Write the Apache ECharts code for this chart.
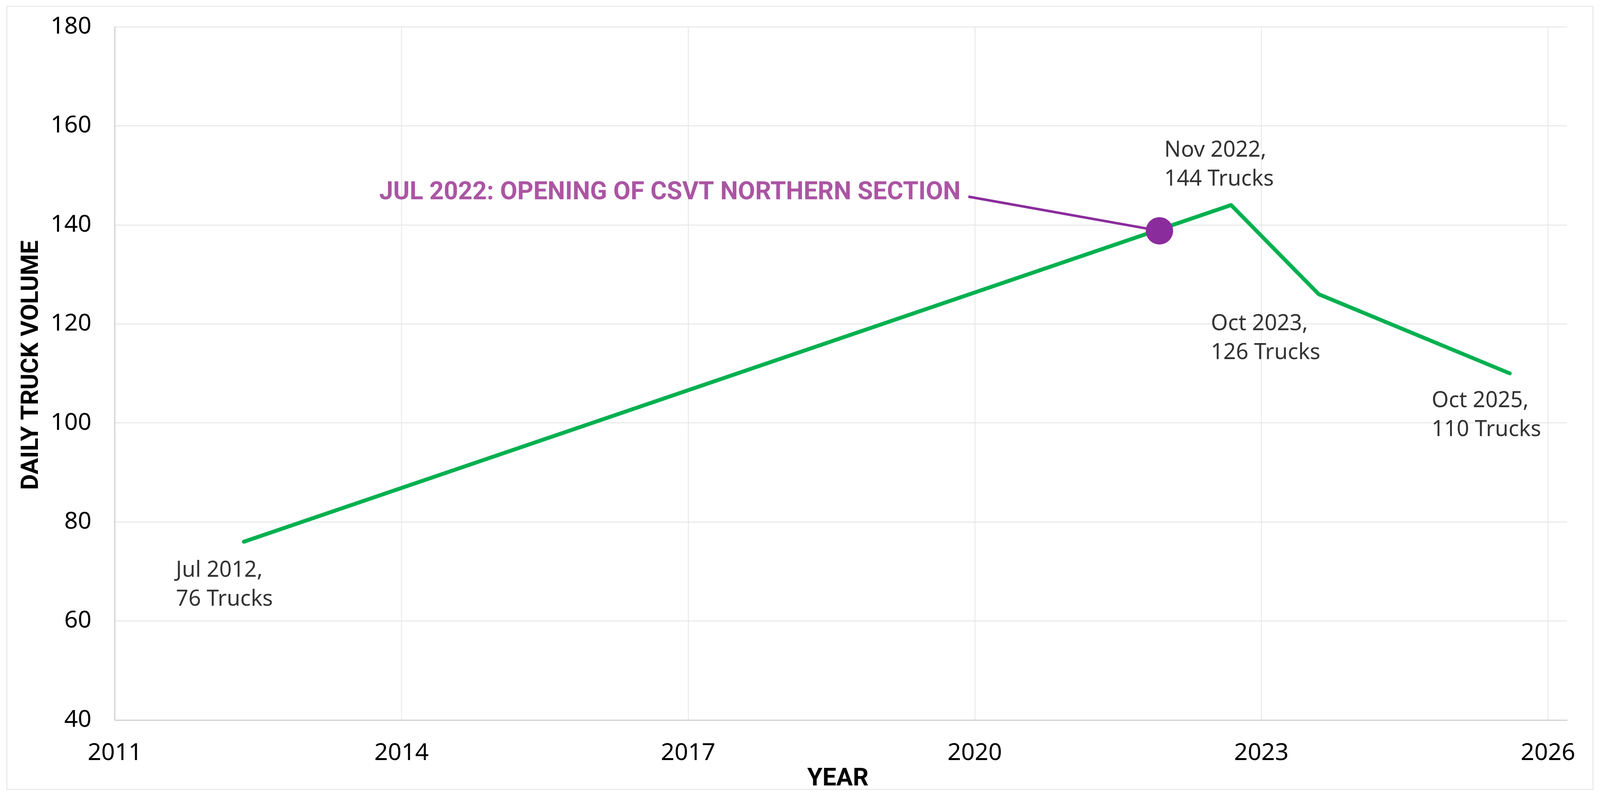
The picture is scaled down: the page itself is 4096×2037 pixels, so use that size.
<!DOCTYPE html>
<html>
<head>
<meta charset="utf-8">
<script src="https://cdn.jsdelivr.net/npm/echarts@6.0.0/dist/echarts.min.js"></script>
<style>
  html, body { margin: 0; padding: 0; background: #ffffff; }
  #chart { width: 4096px; height: 2037px; }
</style>
</head>
<body>
<div id="chart"></div>
<script>
// ---------------- data ----------------
const dates      = ['2012-07', '2022-11', '2023-10', '2025-10'];
const dateLabels = ['Jul 2012', 'Nov 2022', 'Oct 2023', 'Oct 2025'];
const trucks     = [76, 144, 126, 110];

const xTickLabels = ['2011', '2014', '2017', '2020', '2023', '2026'];
const yTicks      = [40, 60, 80, 100, 120, 140, 160, 180];

const eventText  = 'JUL 2022: OPENING OF CSVT NORTHERN SECTION';
const eventPoint = ['2022-02', 138.8];   // purple marker on the line
const calloutAt  = ['2020-02', 145.7];   // where the leader line starts (end of the caption)

// x axis: years counted from the axis origin (the "2011" tick), 3-year steps
const X_ORIGIN = 2011.15;
const X_SPAN   = 15.2;
const X_STEP   = 3;

// ---------------- helpers ----------------
function toX(d) {
  const [y, m] = d.split('-').map(Number);
  return y + (m - 1) / 12 - X_ORIGIN;
}

const GREEN  = '#00B050';
const PURPLE = '#8B2C9D';
const PURPLE_TEXT = '#962A8C';
const FONT = "'Noto Sans', 'Open Sans', sans-serif";
const BOLD_FONT = "Roboto, 'Liberation Sans', sans-serif";

// label box offsets (pixels) relative to each point
const labelOffsets = [[-174, 37], [-171, -177], [-276, 39], [-200, 34]];

const lineData = dates.map((d, i) => [toX(d), trucks[i]]);
const labelData = dates.map((d, i) => ({
  value: [toX(d), trucks[i]],
  label: {
    show: true,
    position: [labelOffsets[i][0] + 0.5, labelOffsets[i][1] + 0.5],
    formatter: dateLabels[i] + ',\n' + trucks[i] + ' Trucks'
  }
}));

const chart = echarts.init(document.getElementById('chart'), null, { renderer: 'canvas' });

const option = {
  backgroundColor: '#ffffff',
  animation: false,
  graphic: [{
    type: 'rect',
    silent: true,
    shape: { x: 17.5, y: 16.5, width: 4078 - 17.5, height: 2020 - 16.5 },
    style: { fill: 'none', stroke: '#d9d9d9', lineWidth: 1.5 },
    z: -10
  }],
  grid: { left: 294.2, top: 68.7, right: 84.3, bottom: 194.7, containLabel: false },
  xAxis: {
    type: 'value',
    min: 0,
    max: X_SPAN,
    interval: X_STEP,
    name: 'YEAR',
    nameLocation: 'middle',
    nameGap: 109,
    nameTextStyle: { fontFamily: BOLD_FONT, fontWeight: 'bold', fontSize: 63, color: '#000', padding: [0, 16, 0, 0] },
    axisLine: { show: true, lineStyle: { color: '#bfbfbf', width: 2 } },
    axisTick: { show: false },
    axisLabel: {
      fontFamily: FONT, fontSize: 61, color: '#000', margin: 55,
      showMinLabel: true, showMaxLabel: false,
      formatter: v => {
        const k = Math.round(v / X_STEP);
        return Math.abs(v - k * X_STEP) < 1e-6 ? (xTickLabels[k] || '') : '';
      }
    },
    splitLine: { show: true, showMaxLine: false, lineStyle: { color: '#dedede', width: 1.5 } }
  },
  yAxis: {
    type: 'value',
    min: yTicks[0],
    max: yTicks[yTicks.length - 1],
    interval: yTicks[1] - yTicks[0],
    name: 'DAILY TRUCK VOLUME',
    nameLocation: 'middle',
    nameGap: 182,
    nameTextStyle: { fontFamily: BOLD_FONT, fontWeight: 'bold', fontSize: 62, color: '#000', padding: [0, 0, 0, 42] },
    axisLine: { show: true, lineStyle: { color: '#bfbfbf', width: 2 } },
    axisTick: { show: false },
    axisLabel: { fontFamily: FONT, fontSize: 61, color: '#000', margin: 60 },
    splitLine: { show: true, lineStyle: { color: '#d9d9d9', width: 1.5 } }
  },
  series: [
    {
      name: 'Daily truck volume',
      type: 'line',
      data: lineData,
      symbol: 'none',
      lineStyle: { color: GREEN, width: 10, cap: 'round', join: 'round' },
      z: 2
    },
    {
      name: 'leader',
      type: 'line',
      data: [[toX(calloutAt[0]), calloutAt[1]], [toX(eventPoint[0]), eventPoint[1]]],
      symbol: 'none',
      lineStyle: { color: PURPLE, width: 6.5 },
      z: 3
    },
    {
      name: 'event',
      type: 'scatter',
      data: [[toX(eventPoint[0]), eventPoint[1]]],
      symbol: 'circle',
      symbolSize: 70,
      itemStyle: { color: PURPLE, opacity: 1 },
      z: 4
    },
    {
      name: 'event caption',
      type: 'scatter',
      data: [{
        value: [toX(calloutAt[0]), calloutAt[1]],
        label: {
          show: true,
          position: [-19.3, -9.1],
          align: 'right',
          verticalAlign: 'middle',
          formatter: eventText
        }
      }],
      symbolSize: 1,
      itemStyle: { color: 'rgba(0,0,0,0)' },
      label: { fontFamily: BOLD_FONT, fontWeight: 'bold', fontSize: 64, color: PURPLE_TEXT },
      z: 5
    },
    {
      name: 'point labels',
      type: 'scatter',
      data: labelData,
      symbolSize: 1,
      itemStyle: { color: 'rgba(0,0,0,0)' },
      label: { fontFamily: FONT, fontSize: 56, lineHeight: 74, color: '#000', align: 'left', verticalAlign: 'top' },
      z: 5
    }
  ]
};
chart.setOption(option);
</script>
</body>
</html>
